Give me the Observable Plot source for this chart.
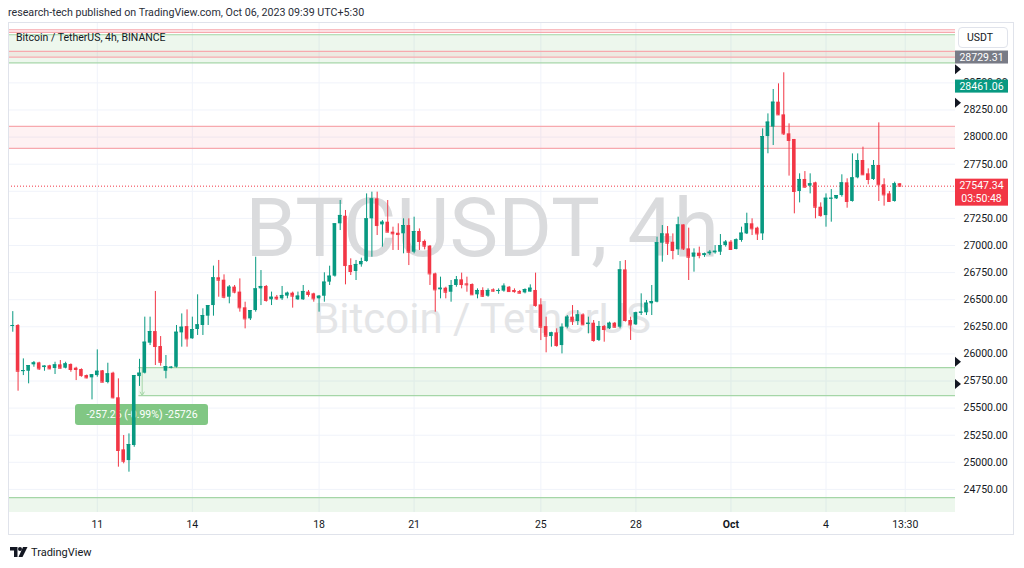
<!DOCTYPE html>
<html><head><meta charset="utf-8">
<script src="https://cdn.jsdelivr.net/npm/d3@7"></script>
<script src="https://cdn.jsdelivr.net/npm/@observablehq/plot@0.6"></script>
<style>
body{margin:0;background:#fff;font-family:Roboto,"Noto Sans",sans-serif;color:#131722;}
#wrap{position:relative;width:1024px;height:568px;overflow:hidden;background:#fff;}
#chart{position:absolute;left:0;top:0;}
.abs{position:absolute;white-space:nowrap;}
#hdr{left:8px;top:6px;font-size:10.7px;color:#2a2e39;}
#sym{left:16px;top:31px;font-size:10.5px;color:#131722;}
#frame{left:8px;top:22px;width:1006px;height:513px;border:1px solid #e0e3eb;box-sizing:border-box;pointer-events:none;}
#usdt{left:958px;top:27px;width:50px;height:21px;border:1px solid #e0e3eb;border-radius:4px;box-sizing:border-box;font-size:10.5px;line-height:19px;padding-left:8px;background:#fff;}
#foot{left:10px;top:546px;font-size:11px;color:#131722;display:flex;align-items:center;gap:3px;}
</style></head><body>
<div id="wrap">
<div id="chart"></div>
<div class="abs" id="frame"></div>
<div class="abs" id="hdr">research-tech published on TradingView.com, Oct 06, 2023 09:39 UTC+5:30</div>
<div class="abs" id="sym">Bitcoin / TetherUS, 4h, BINANCE</div>
<div class="abs" id="usdt">USDT</div>
<div class="abs" id="foot"><svg width="18" height="11" viewBox="0 0 18 11"><path d="M0 0H7.5V10H4V3.5H0Z" fill="#131722"/><circle cx="10" cy="2" r="2" fill="#131722"/><path d="M13 0H17.5L12.5 10H8.5Z" fill="#131722"/></svg><span>TradingView</span></div>
</div>
<script>
// ---- data ----
const startTime = "2023-09-08T09:30:00Z"; // exchange-local (UTC+5:30) wall clock
const stepHours = 4;
const opens = [26255,26262,25837,25840,25899,25917,25874,25890,25865,25899,
25868,25902,25868,25856,25800,25779,25800,25844,25736,25822,
25595,25115,25016,25155,25791,25822,26099,26206,26068,25840,
25871,25877,26194,26252,26139,26225,26262,26348,26446,26702,
26680,26523,26616,26570,26425,26323,26400,26600,26622,26499,
26523,26508,26533,26560,26499,26499,26570,26554,26508,26532,
26662,26717,27200,27270,26815,26760,26822,26852,27246,27430,
27190,27215,27123,27113,27108,27184,26938,27129,27037,26994,
26738,26591,26606,26569,26631,26683,26646,26640,26545,26585,
26532,26591,26575,26579,26615,26585,26575,26563,26570,26585,
26452,26252,26160,26194,26077,26246,26339,26299,26360,26271,
26283,26124,26253,26231,26283,26246,26775,26308,26268,26376,
26379,26462,26477,27021,27107,27030,26960,27190,26969,26892,
26929,26907,26923,26932,26938,26999,27031,26963,27046,27107,
27200,27160,27107,28005,28092,28322,28205,28030,27978,27498,
27609,27547,27578,27353,27276,27430,27430,27461,27578,27406,
27624,27784,27661,27609,27738,27560,27476,27406,27569];
const highs = [26390,26270,25954,25893,25930,25923,25890,25895,25923,25939,
25923,25908,25877,25862,25805,25810,26037,25847,25914,25831,
25770,25247,25262,25800,25950,26339,26339,26576,26160,25985,
25884,26262,26369,26406,26339,26545,26416,26446,26810,26862,
26729,26631,26631,26692,26477,26400,26892,26769,26631,26570,
26539,26622,26570,26570,26570,26631,26585,26560,26539,26748,
26809,27200,27415,27323,26877,26862,26883,27476,27492,27492,
27230,27415,27169,27200,27246,27246,27261,27153,27050,27000,
26745,26708,26615,26677,26714,26745,26708,26646,26600,26610,
26600,26600,26600,26646,26622,26600,26585,26600,26637,26745,
26508,26339,26200,26231,26277,26354,26446,26400,26370,26339,
26308,26299,26262,26293,26290,26852,26861,26339,26385,26554,
26493,26631,27077,27184,27175,27107,27261,27190,27160,26969,
26985,26930,26954,26999,27101,27046,27046,27061,27169,27298,
27246,27169,28076,28214,28439,28491,28593,28122,27978,27661,
27682,27661,27584,27393,27476,27516,27461,27652,27615,27845,
27845,27907,27707,27784,28131,27615,27498,27584,27572];
const lows = [26200,25656,25800,25724,25877,25847,25840,25855,25810,25862,
25862,25831,25754,25785,25770,25576,25785,25735,25724,25585,
24955,24986,24909,25139,25700,25815,26077,25893,25887,25770,
25862,25870,26062,26062,26135,26170,26170,26262,26348,26523,
26508,26462,26554,26385,26231,26308,26385,26446,26477,26446,
26493,26493,26508,26422,26493,26493,26523,26477,26385,26477,
26631,26708,27138,26637,26723,26677,26800,26846,26892,27092,
26985,27118,26954,26954,26923,26815,26923,26954,26960,26631,
26385,26508,26508,26477,26615,26600,26569,26539,26508,26520,
26523,26570,26550,26569,26569,26560,26554,26554,26570,26431,
26123,26010,26062,26062,26000,26231,26262,26262,26262,26185,
26108,26114,26108,26225,26240,26231,26293,26124,26262,26354,
26354,26354,26471,26846,26908,26868,26908,26954,26677,26754,
26877,26890,26908,26920,26908,26985,26954,26960,27030,27101,
27092,27046,27046,27846,27922,28200,28015,27640,27292,27393,
27529,27476,27246,27261,27169,27215,27425,27446,27344,27400,
27615,27646,27560,27600,27406,27363,27400,27400,27540];
const closes = [26262,25840,25846,25893,25917,25862,25887,25862,25899,25868,
25908,25856,25856,25800,25779,25807,25840,25739,25816,25595,
25109,25010,25164,25800,25822,26108,26206,26068,25923,25883,
25877,26200,26246,26139,26225,26268,26354,26446,26702,26680,
26523,26616,26570,26425,26323,26400,26600,26622,26493,26523,
26508,26539,26560,26533,26533,26576,26548,26508,26532,26662,
26717,27200,27277,26815,26760,26825,26852,27246,27430,27184,
27215,27123,27108,27101,27184,26938,27129,27037,26994,26738,
26591,26606,26569,26631,26683,26640,26637,26545,26585,26532,
26585,26579,26585,26625,26575,26575,26560,26594,26606,26446,
26246,26163,26194,26077,26246,26339,26302,26360,26268,26283,
26124,26253,26225,26283,26246,26775,26308,26268,26379,26385,
26468,26483,27026,27107,27021,26954,27190,26969,26892,26929,
26907,26923,26938,26947,26999,27031,26963,27052,27114,27200,
27154,27107,28005,28138,28322,28205,28030,27969,27498,27609,
27538,27569,27353,27276,27436,27436,27461,27578,27406,27624,
27784,27652,27609,27738,27560,27467,27406,27569,27547.34];

const gridPrices = [24750,25000,25250,25500,25750,26000,26250,26500,26750,27000,27250,27500,27750,28000,28250,28500];
const labelledPrices = [24750,25000,25250,25500,25750,26000,26250,26500,26750,27000,27250,27750,28000,28250,28500]; // 27500 sits under the last-price tag
const timeTickDates = ["2023-09-11T01:30Z","2023-09-14T01:30Z","2023-09-18T01:30Z","2023-09-21T01:30Z","2023-09-25T01:30Z","2023-09-28T01:30Z","2023-10-01T01:30Z","2023-10-04T01:30Z","2023-10-06T13:30Z"];
const timeTickLabels = ["11","14","18","21","25","28","Oct","4","13:30"];
const viewStart = "2023-09-08T06:15Z", viewEnd = "2023-10-08T03:35Z";
const priceMin = 24537, priceMax = 29057;

// drawn zones
const zoneKind  = ["green","red","red","red","green","green"];
const zoneLow   = [28685, 28965, 28737, 27895, 25616, 24537];
const zoneHigh  = [28944, 28990, 28790, 28098, 25874, 24675];
const zoneStart = [null, null, null, null, "2023-09-12T09:00Z", null];

// measure annotation
const measureText = "-257.26 (-0.99%) -25726";
const measureDates = ["2023-09-10T09:00Z","2023-09-14T13:45Z"];
const measurePrices = [25340, 25533];
const measureArrowDate = "2023-09-12T11:30Z";
const measureArrowPrices = [25874, 25616];

// price-scale labels
const topLabel = 28729.31, greenLabel = 28461.06, lastPrice = 27547.34, countdown = "03:50:48";
const alertPrices = [28621, 28313, 25923, 25718];
const tickerWatermark = "BTCUSDT, 4h", nameWatermark = "Bitcoin / TetherUS";

// ---- build ----
const GREEN = "#089981", RED = "#f23645";
const t0 = Date.parse(startTime), STEP = stepHours * 3600e3;
const candles = opens.map((o, i) => ({date: new Date(t0 + i * STEP), open: o, high: highs[i], low: lows[i], close: closes[i]}));
const col = d => d.close >= d.open ? GREEN : RED;
const xd = [new Date(viewStart), new Date(viewEnd)];
const zones = zoneKind.map((k, i) => ({kind: k, low: zoneLow[i], high: zoneHigh[i], start: zoneStart[i] ? new Date(zoneStart[i]) : xd[0]}));
const tickDates = timeTickDates.map(s => new Date(s));
const tickMap = new Map(tickDates.map((d, i) => [+d, timeTickLabels[i]]));
const half = 0.34 * STEP;
const zFill = d => d.kind === "green" ? "rgba(76,175,80,0.10)" : "rgba(242,54,69,0.065)";
const zLine = d => d.kind === "green" ? "#a5d6a7" : "#f7a9ae";

const plot = Plot.plot({
  width: 1024, height: 568,
  marginLeft: 8, marginRight: 69, marginTop: 22, marginBottom: 56,
  style: {background: "transparent", fontFamily: "Roboto, 'Noto Sans', sans-serif", fontSize: "10.5px", color: "#131722", overflow: "visible"},
  x: {type: "utc", domain: xd, label: null},
  y: {domain: [priceMin, priceMax], label: null},
  marks: [
    Plot.gridY(gridPrices, {stroke: "#f0f3fa", strokeOpacity: 1}),
    Plot.gridX(tickDates, {stroke: "#f0f3fa", strokeOpacity: 1}),
    Plot.text([tickerWatermark], {frameAnchor: "middle", dy: -38, fontSize: 82, fill: "#dadbdd", fontFamily: "Roboto, sans-serif"}),
    Plot.text([nameWatermark], {frameAnchor: "middle", dy: 52, fontSize: 42, fill: "#e4e5e7", fontFamily: "Roboto, sans-serif"}),
    Plot.rect(zones, {x1: "start", x2: () => xd[1], y1: "low", y2: "high", fill: zFill}),
    Plot.ruleY(zones.filter(d => d.low > priceMin), {y: "low", x1: "start", x2: () => xd[1], stroke: zLine, strokeWidth: 1.2}),
    Plot.ruleY(zones, {y: "high", x1: "start", x2: () => xd[1], stroke: zLine, strokeWidth: 1.2}),
    Plot.rect([0], {x1: () => new Date(measureDates[0]), x2: () => new Date(measureDates[1]), y1: () => measurePrices[0], y2: () => measurePrices[1], fill: "#81c784", rx: 3}),
    Plot.text([measureText], {x: () => new Date((Date.parse(measureDates[0]) + Date.parse(measureDates[1])) / 2), y: () => (measurePrices[0] + measurePrices[1]) / 2, fill: "white", fontSize: 10.5}),
    Plot.arrow([0], {x1: () => new Date(measureArrowDate), x2: () => new Date(measureArrowDate), y1: () => measureArrowPrices[0], y2: () => measureArrowPrices[1], stroke: "#a5d6a7", headLength: 6, strokeWidth: 1}),
    Plot.ruleY([lastPrice], {stroke: RED, strokeDasharray: "1,2", strokeWidth: 1}),
    Plot.ruleX(candles, {x: "date", y1: "low", y2: "high", stroke: col, strokeWidth: 1}),
    Plot.rect(candles, {x1: d => new Date(+d.date - half), x2: d => new Date(+d.date + half), y1: d => Math.min(d.open, d.close), y2: d => Math.max(d.open, d.close), fill: col}),
    Plot.ruleY(candles, {y: "close", x1: d => new Date(+d.date - half), x2: d => new Date(+d.date + half), stroke: col, strokeWidth: 1}),
    Plot.axisY(labelledPrices, {anchor: "right", tickSize: 0, tickPadding: 8, tickFormat: d => d.toFixed(2), fill: "#131722", fontSize: 10.5}),
    Plot.axisX(tickDates, {tickSize: 0, tickPadding: 8, tickFormat: d => tickMap.get(+d), fill: "#131722", fontSize: 10.5})
  ]
});
document.getElementById("chart").append(plot);

// price-scale labels drawn through the y scale
const ys = plot.scale("y");
const svg = d3.select(plot);
svg.selectAll("text").filter(function(){ return this.textContent === "Oct"; }).attr("font-weight", "bold");
const g = svg.append("g").attr("font-family", "Roboto, sans-serif").attr("font-size", 10.5);
const X0 = 955, BW = 53;
[[topLabel, "#787b86"], [greenLabel, GREEN]].forEach(([p, c]) => {
  const y = ys.apply(p);
  g.append("rect").attr("x", X0).attr("y", y - 7).attr("width", BW).attr("height", 13).attr("fill", c);
  g.append("text").attr("x", X0 + BW / 2).attr("y", y).attr("dy", "0.35em").attr("text-anchor", "middle").attr("fill", "white").text(p.toFixed(2));
});
{
  const y = ys.apply(lastPrice);
  g.append("rect").attr("x", X0).attr("y", y - 7).attr("width", BW).attr("height", 27).attr("fill", RED);
  g.append("text").attr("x", X0 + BW / 2).attr("y", y).attr("dy", "0.35em").attr("text-anchor", "middle").attr("fill", "white").text(lastPrice.toFixed(2));
  g.append("text").attr("x", X0 + BW / 2).attr("y", y + 13).attr("dy", "0.35em").attr("text-anchor", "middle").attr("fill", "white").text(countdown);
}
alertPrices.forEach(p => {
  const y = ys.apply(p);
  g.append("path").attr("d", `M${X0},${y - 5}L${X0 + 6},${y}L${X0},${y + 5}Z`).attr("fill", "#131722");
});
</script>
</body></html>
